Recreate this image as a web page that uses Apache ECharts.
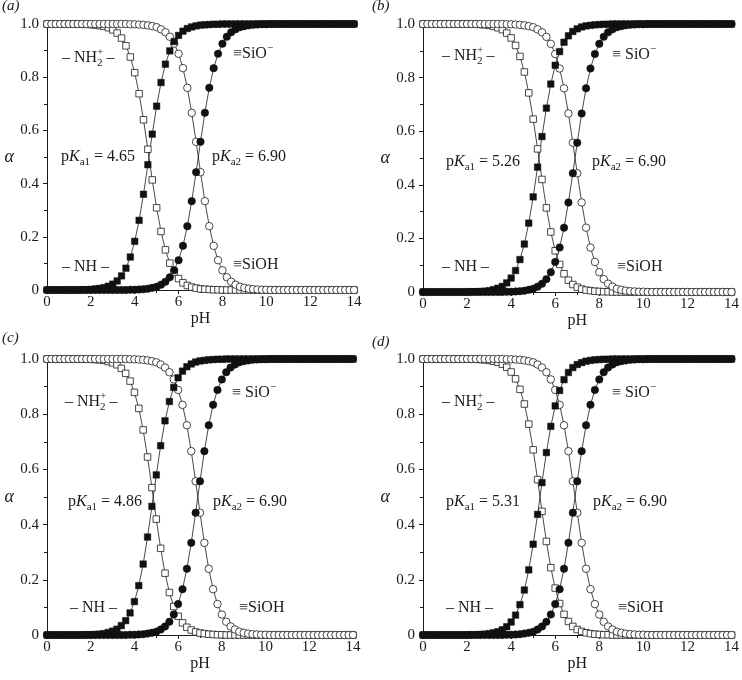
<!DOCTYPE html>
<html>
<head>
<meta charset="utf-8">
<script src="https://cdn.jsdelivr.net/npm/echarts@6/dist/echarts.min.js"></script>
<style>
html,body{margin:0;padding:0;background:#fff;}
#chart{width:742px;height:680px;}
</style>
</head>
<body>
<div id="chart"></div>
<script>
const pH = [0,0.2,0.4,0.6,0.8,1,1.2,1.4,1.6,1.8,
  2,2.2,2.4,2.6,2.8,3,3.2,3.4,3.6,3.8,
  4,4.2,4.4,4.6,4.8,5,5.2,5.4,5.6,5.8,
  6,6.2,6.4,6.6,6.8,7,7.2,7.4,7.6,7.8,
  8,8.2,8.4,8.6,8.8,9,9.2,9.4,9.6,9.8,
  10,10.2,10.4,10.6,10.8,11,11.2,11.4,11.6,11.8,
  12,12.2,12.4,12.6,12.8,13,13.2,13.4,13.6,13.8,
  14];

// ≡SiO− (filled circles), pKa2 = 6.90, same in all panels
const siO = [0,0,0,0,0,0,0,0,0,0,
  0,0,0,0,0,0,0,0,0,0.001,
  0.001,0.002,0.003,0.005,0.008,0.012,0.020,0.031,0.048,0.074,
  0.112,0.166,0.240,0.334,0.443,0.557,0.666,0.760,0.834,0.888,
  0.926,0.952,0.969,0.980,0.988,0.992,0.995,0.997,0.998,0.999,
  0.999,1,1,1,1,1,1,1,1,1,
  1,1,1,1,1,1,1,1,1,1,
  1];
// ≡SiOH (open circles)
const siOH = [1,1,1,1,1,1,1,1,1,1,
  1,1,1,1,1,1,1,1,1,0.999,
  0.999,0.998,0.997,0.995,0.992,0.988,0.980,0.969,0.952,0.926,
  0.888,0.834,0.760,0.666,0.557,0.443,0.334,0.240,0.166,0.112,
  0.074,0.048,0.031,0.020,0.012,0.008,0.005,0.003,0.002,0.001,
  0.001,0,0,0,0,0,0,0,0,0,
  0,0,0,0,0,0,0,0,0,0,
  0];

// panel (a) pKa1 = 4.65
const nhA = [0,0,0,0,0,0,0,0,0.001,0.001,
  0.002,0.004,0.006,0.009,0.014,0.022,0.034,0.053,0.082,0.124,
  0.183,0.262,0.360,0.471,0.586,0.691,0.780,0.849,0.899,0.934,
  0.957,0.973,0.983,0.989,0.993,0.996,0.997,0.998,0.999,0.999,
  1,1,1,1,1,1,1,1,1,1,
  1,1,1,1,1,1,1,1,1,1,
  1,1,1,1,1,1,1,1,1,1,
  1];
const nh2A = [1,1,1,1,1,1,1,1,0.999,0.999,
  0.998,0.996,0.994,0.991,0.986,0.978,0.966,0.947,0.918,0.876,
  0.817,0.738,0.640,0.529,0.414,0.309,0.220,0.151,0.101,0.066,
  0.043,0.027,0.017,0.011,0.007,0.004,0.003,0.002,0.001,0.001,
  0,0,0,0,0,0,0,0,0,0,
  0,0,0,0,0,0,0,0,0,0,
  0,0,0,0,0,0,0,0,0,0,
  0];

// panel (b) pKa1 = 5.26
const nhB = [0,0,0,0,0,0,0,0,0,0,
  0,0.001,0.001,0.002,0.003,0.005,0.009,0.014,0.021,0.034,
  0.052,0.080,0.121,0.179,0.257,0.355,0.466,0.580,0.686,0.776,
  0.846,0.897,0.932,0.956,0.972,0.982,0.989,0.993,0.995,0.997,
  0.998,0.999,0.999,1,1,1,1,1,1,1,
  1,1,1,1,1,1,1,1,1,1,
  1,1,1,1,1,1,1,1,1,1,
  1];
const nh2B = [1,1,1,1,1,1,1,1,1,1,
  1,0.999,0.999,0.998,0.997,0.995,0.991,0.986,0.979,0.966,
  0.948,0.920,0.879,0.821,0.743,0.645,0.534,0.420,0.314,0.224,
  0.154,0.103,0.068,0.044,0.028,0.018,0.011,0.007,0.005,0.003,
  0.002,0.001,0.001,0,0,0,0,0,0,0,
  0,0,0,0,0,0,0,0,0,0,
  0,0,0,0,0,0,0,0,0,0,
  0];

// panel (c) pKa1 = 4.86
const nhC = [0,0,0,0,0,0,0,0,0,0.001,
  0.001,0.002,0.003,0.005,0.009,0.014,0.021,0.034,0.052,0.080,
  0.121,0.179,0.257,0.355,0.466,0.580,0.686,0.776,0.846,0.897,
  0.932,0.956,0.972,0.982,0.989,0.993,0.995,0.997,0.998,0.999,
  0.999,1,1,1,1,1,1,1,1,1,
  1,1,1,1,1,1,1,1,1,1,
  1,1,1,1,1,1,1,1,1,1,
  1];
const nh2C = [1,1,1,1,1,1,1,1,1,0.999,
  0.999,0.998,0.997,0.995,0.991,0.986,0.979,0.966,0.948,0.920,
  0.879,0.821,0.743,0.645,0.534,0.420,0.314,0.224,0.154,0.103,
  0.068,0.044,0.028,0.018,0.011,0.007,0.005,0.003,0.002,0.001,
  0.001,0,0,0,0,0,0,0,0,0,
  0,0,0,0,0,0,0,0,0,0,
  0,0,0,0,0,0,0,0,0,0,
  0];

// panel (d) pKa1 = 5.31
const nhD = [0,0,0,0,0,0,0,0,0,0,
  0,0.001,0.001,0.002,0.003,0.005,0.008,0.012,0.019,0.030,
  0.047,0.072,0.110,0.163,0.236,0.329,0.437,0.552,0.661,0.756,
  0.830,0.886,0.925,0.951,0.969,0.980,0.987,0.992,0.995,0.997,
  0.998,0.999,0.999,1,1,1,1,1,1,1,
  1,1,1,1,1,1,1,1,1,1,
  1,1,1,1,1,1,1,1,1,1,
  1];
const nh2D = [1,1,1,1,1,1,1,1,1,1,
  1,0.999,0.999,0.998,0.997,0.995,0.992,0.988,0.981,0.970,
  0.953,0.928,0.890,0.837,0.764,0.671,0.563,0.448,0.339,0.244,
  0.170,0.114,0.075,0.049,0.031,0.020,0.013,0.008,0.005,0.003,
  0.002,0.001,0.001,0,0,0,0,0,0,0,
  0,0,0,0,0,0,0,0,0,0,
  0,0,0,0,0,0,0,0,0,0,
  0];

const xTicks = [0,2,4,6,8,10,12,14];
const yTicks = [0,0.2,0.4,0.6,0.8,1.0];
const panelLetters = ['a','b','c','d'];
const pKa1Labels = ['4.65','5.26','4.86','5.31'];
const pKa2Label = '6.90';

const FONT = 'Liberation Serif';
const INK = '#1a1a1a';

const panels = [
  {grid:{left:47, top:24, width:307, height:266}, nh:nhA, nh2:nh2A},
  {grid:{left:423, top:24, width:309, height:268}, nh:nhB, nh2:nh2B},
  {grid:{left:47, top:359, width:306, height:276}, nh:nhC, nh2:nh2C},
  {grid:{left:423, top:359, width:312, height:276}, nh:nhD, nh2:nh2D}
];

const grids = [], xAxes = [], yAxes = [], series = [];
panels.forEach((p, k) => {
  grids.push(Object.assign({containLabel:false}, p.grid));
  xAxes.push({
    type:'value', gridIndex:k, min:0, max:14, interval:2,
    name:'pH', nameLocation:'middle', nameGap:20,
    nameTextStyle:{fontFamily:FONT, fontSize:16, color:INK},
    axisLine:{show:true, onZero:false, lineStyle:{color:INK, width:1}},
    axisTick:{show:true, inside:false, length:4, lineStyle:{color:INK}},
    minorTick:{show:true, splitNumber:2, length:3, lineStyle:{color:INK}},
    axisLabel:{fontFamily:FONT, fontSize:15, color:INK, margin:5,
      formatter: v => xTicks.indexOf(v) >= 0 ? String(v) : ''},
    splitLine:{show:false}
  });
  yAxes.push({
    type:'value', gridIndex:k, min:0, max:1, interval:0.2,
    name:'α', nameLocation:'middle', nameGap:33, nameRotate:0,
    nameTextStyle:{fontFamily:FONT, fontSize:18, fontStyle:'italic', color:INK},
    axisLine:{show:true, onZero:false, lineStyle:{color:INK, width:1}},
    axisTick:{show:true, inside:false, length:4, lineStyle:{color:INK}},
    minorTick:{show:true, splitNumber:2, length:3, lineStyle:{color:INK}},
    axisLabel:{fontFamily:FONT, fontSize:15, color:INK, margin:8,
      formatter: v => { const t = yTicks.find(q => Math.abs(q - v) < 1e-6); return t === undefined ? '' : (t === 0 ? '0' : t.toFixed(1)); }},
    splitLine:{show:false}
  });
  const mk = (arr) => pH.map((x, i) => [x, arr[i]]);
  const base = {type:'line', xAxisIndex:k, yAxisIndex:k, animation:false,
    lineStyle:{color:INK, width:0.8}, emphasis:{disabled:true}, silent:true};
  series.push(Object.assign({}, base, {name:'NH2+ '+k, data:mk(p.nh2), symbol:'rect', symbolSize:6.5,
    itemStyle:{color:'#fff', borderColor:INK, borderWidth:0.8}}));
  series.push(Object.assign({}, base, {name:'SiOH '+k, data:mk(siOH), symbol:'circle', symbolSize:7.5,
    itemStyle:{color:'#fff', borderColor:INK, borderWidth:0.8}}));
  series.push(Object.assign({}, base, {name:'NH '+k, data:mk(p.nh), symbol:'rect', symbolSize:6.5,
    itemStyle:{color:'#111', borderColor:'#111', borderWidth:0.5}}));
  series.push(Object.assign({}, base, {name:'SiO- '+k, data:mk(siO), symbol:'circle', symbolSize:7.5,
    itemStyle:{color:'#111', borderColor:'#111', borderWidth:0.5}}));
});

const rich = {
  t:{fontFamily:FONT, fontSize:16, lineHeight:22, color:INK},
  i:{fontFamily:FONT, fontSize:16, lineHeight:22, fontStyle:'italic', color:INK},
  sub:{fontFamily:FONT, fontSize:11, lineHeight:12, verticalAlign:'bottom', color:INK},
  sup:{fontFamily:FONT, fontSize:11, lineHeight:12, verticalAlign:'top', color:INK},
  sup0:{fontFamily:FONT, fontSize:11, lineHeight:12, verticalAlign:'top', width:0, color:INK}
};
function txt(x, y, text) {
  return {type:'text', x:x, y:y, silent:true, z:100,
    style:{text:text, rich:rich, align:'left', verticalAlign:'middle',
      fontFamily:FONT, fontSize:16, fill:INK}};
}
const annot = [
  {letter:[2,6], nh2:[62,58], sio:[233,54], pk1:[61,157], pk2:[212,157], nh:[62,267], sioh:[233,265]},
  {letter:[372,6], nh2:[442,56], sio:[612,55], pk1:[446,162], pk2:[592,162], nh:[442,267], sioh:[617,267]},
  {letter:[2,338], nh2:[65,402], sio:[232,393], pk1:[68,502], pk2:[213,502], nh:[70,608], sioh:[239,608]},
  {letter:[372,342], nh2:[442,402], sio:[612,393], pk1:[446,502], pk2:[593,502], nh:[446,608], sioh:[618,608]}
];
const graphics = [];
annot.forEach((a, k) => {
  graphics.push({type:'text', x:a.letter[0], y:a.letter[1], silent:true,
    style:{text:'(' + panelLetters[k] + ')', font:'italic 15px ' + FONT, fill:INK, align:'left', verticalAlign:'middle'}});
  graphics.push(txt(a.nh2[0], a.nh2[1], '{t|– NH}{sup0|+}{sub|2}{t| –}'));
  graphics.push(txt(a.sio[0], a.sio[1], (k === 0 ? '{t|≡SiO}' : '{t|≡ SiO}') + '{sup|−}'));
  graphics.push(txt(a.pk1[0], a.pk1[1], '{t|p}{i|K}{sub|a1}{t| = ' + pKa1Labels[k] + '}'));
  graphics.push(txt(a.pk2[0], a.pk2[1], '{t|p}{i|K}{sub|a2}{t| = ' + pKa2Label + '}'));
  graphics.push(txt(a.nh[0], a.nh[1], '{t|– NH –}'));
  graphics.push(txt(a.sioh[0], a.sioh[1], '{t|≡SiOH}'));
});

const chart = echarts.init(document.getElementById('chart'), null, {renderer:'canvas'});
chart.setOption({
  animation:false,
  backgroundColor:'#fff',
  grid:grids, xAxis:xAxes, yAxis:yAxes, series:series,
  graphic:graphics
});
</script>
</body>
</html>
